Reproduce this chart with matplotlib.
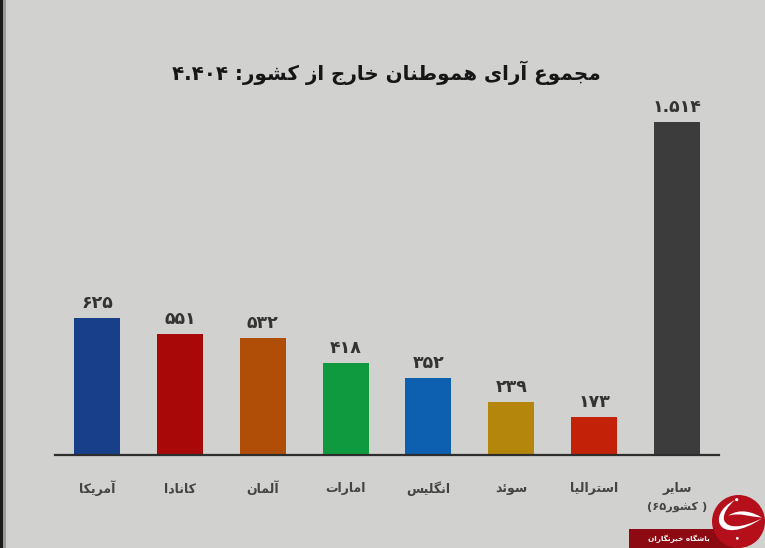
import matplotlib
matplotlib.use("Agg")
import matplotlib.pyplot as plt
from matplotlib.patches import Circle, Rectangle, PathPatch
from matplotlib.path import Path

# ---- data ----
categories = ["آمریکا", "کانادا", "آلمان", "امارات", "انگلیس", "سوئد", "استرالیا", "سایر"]
values = [625, 551, 532, 418, 352, 239, 173, 1514]
value_labels = ["۶۲۵", "۵۵۱", "۵۳۲", "۴۱۸", "۳۵۲", "۲۳۹", "۱۷۳", "۱.۵۱۴"]
colors = ["#173f8a", "#a80808", "#b04e08", "#0f9a40", "#0d5fb0", "#b5860c", "#c42208", "#3c3c3c"]
title = "مجموع آرای هموطنان خارج از کشور: ۴.۴۰۴"
extra_label = "( کشور۶۵)"
banner = "باشگاه خبرنگاران"

# ---- simple Persian shaping into presentation forms (visual order) ----
FORMS = {  # isolated, final, initial, medial
    "ا": "\uFE8D\uFE8E", "آ": "\uFE81\uFE82", "د": "\uFEA9\uFEAA", "ذ": "\uFEAB\uFEAC",
    "ر": "\uFEAD\uFEAE", "ز": "\uFEAF\uFEB0", "و": "\uFEED\uFEEE", "ژ": "\uFB8A\uFB8B",
    "ؤ": "\uFE85\uFE86",
    "ب": "\uFE8F\uFE90\uFE91\uFE92", "پ": "\uFB56\uFB57\uFB58\uFB59", "ت": "\uFE95\uFE96\uFE97\uFE98",
    "ج": "\uFE9D\uFE9E\uFE9F\uFEA0", "چ": "\uFB7A\uFB7B\uFB7C\uFB7D", "ح": "\uFEA1\uFEA2\uFEA3\uFEA4",
    "خ": "\uFEA5\uFEA6\uFEA7\uFEA8", "س": "\uFEB1\uFEB2\uFEB3\uFEB4", "ش": "\uFEB5\uFEB6\uFEB7\uFEB8",
    "ط": "\uFEC1\uFEC2\uFEC3\uFEC4", "ع": "\uFEC9\uFECA\uFECB\uFECC", "ف": "\uFED1\uFED2\uFED3\uFED4",
    "ک": "\uFB8E\uFB8F\uFB90\uFB91", "گ": "\uFB92\uFB93\uFB94\uFB95", "ل": "\uFEDD\uFEDE\uFEDF\uFEE0",
    "م": "\uFEE1\uFEE2\uFEE3\uFEE4", "ن": "\uFEE5\uFEE6\uFEE7\uFEE8", "ه": "\uFEE9\uFEEA\uFEEB\uFEEC",
    "ی": "\uFBFC\uFBFD\uFBFE\uFBFF", "ئ": "\uFE89\uFE8A\uFE8B\uFE8C",
}
MIRROR = {"(": ")", ")": "("}


def shape(text):
    out = []
    n = len(text)
    for i, ch in enumerate(text):
        if ch not in FORMS:
            out.append(ch)
            continue
        prev_joins = i > 0 and text[i - 1] in FORMS and len(FORMS[text[i - 1]]) == 4
        next_joins = i < n - 1 and text[i + 1] in FORMS
        f = FORMS[ch]
        if len(f) == 2:
            out.append(f[1] if prev_joins else f[0])
        elif prev_joins and next_joins:
            out.append(f[3])
        elif prev_joins:
            out.append(f[1])
        elif next_joins:
            out.append(f[2])
        else:
            out.append(f[0])
    s = "".join(out)
    runs, cur = [], ""
    for ch in s:
        if ch in "۰۱۲۳۴۵۶۷۸۹.":
            cur += ch
        else:
            if cur:
                runs.append(cur)
                cur = ""
            runs.append(MIRROR.get(ch, ch))
    if cur:
        runs.append(cur)
    return "".join(reversed(runs))


W, H = 765, 548
BG = "#d1d1cf"
fig = plt.figure(figsize=(W / 100, H / 100), dpi=100, facecolor=BG)
plt.rcParams["font.family"] = ["DejaVu Sans"]

ov = fig.add_axes([0, 0, 1, 1], zorder=3)
ov.set_xlim(0, W)
ov.set_ylim(H, 0)
ov.axis("off")
ov.patch.set_alpha(0)

left, right, base, top = 55, 719, 455, 122
ax = fig.add_axes([left / W, 1 - base / H, (right - left) / W, (base - top) / H], zorder=2)
ax.patch.set_alpha(0)
x = list(range(len(categories)))
ax.bar(x, values, width=0.555, color=colors, linewidth=0)
ax.set_xlim(-0.507, 7.507)
ax.set_ylim(0, 1514)
for s in ["top", "left", "right"]:
    ax.spines[s].set_visible(False)
ax.spines["bottom"].set_linewidth(1.6)
ax.spines["bottom"].set_color("#2e2e2e")
ax.set_yticks([])
ax.set_xticks(x)
ax.set_xticklabels([shape(c) for c in categories], fontsize=9, fontweight="bold", color="#444444", va="center")
ax.tick_params(axis="x", length=0, pad=24)
for xi, v, lab in zip(x, values, value_labels):
    ax.annotate(lab, (xi, v), xytext=(0, 4.3), textcoords="offset points", ha="center", va="bottom",
                fontsize=12.5, color="#333333", fontweight="bold", annotation_clip=False)
ax.annotate(shape(extra_label), (7, 0), xytext=(0, -52), textcoords="offset pixels", ha="center", va="center",
            fontsize=8.2, fontweight="bold", color="#444444", annotation_clip=False)

ov.text(386, 73, shape(title), ha="center", va="center", fontsize=14.3, fontweight="bold", color="#161616")

# dark scan edge on the left of the screenshot
ov.add_patch(Rectangle((0, 0), 3, H, color="#1c1c1c", lw=0))
ov.add_patch(Rectangle((3, 0), 3, H, color="#9a9a9a", lw=0))

# watermark
ov.add_patch(Rectangle((629, 529), 112, 20, color="#8e0a12", lw=0))
ov.add_patch(Circle((738.5, 521.5), 26.5, color="#b50f1c", lw=0))
ov.text(679, 539, shape(banner), ha="center", va="center", fontsize=5.2, fontweight="bold", color="white")


def mark(pts):
    return [(700 + a / 3, 485 + b / 3) for a, b in pts]


C = Path.CURVE4
swoosh = Path(mark([(105, 45), (55, 70), (52, 105), (60, 118), (72, 145), (125, 142), (186, 100),
                    (125, 130), (82, 132), (72, 105), (68, 85), (85, 62), (105, 45)]),
              [Path.MOVETO, C, C, C, C, C, C, C, C, C, C, C, C])
stroke = Path(mark([(85, 92), (120, 68), (160, 82), (186, 98), (150, 95), (120, 82), (85, 92)]),
              [Path.MOVETO, C, C, C, C, C, C])
ov.add_patch(PathPatch(swoosh, facecolor="white", lw=0))
ov.add_patch(PathPatch(stroke, facecolor="white", lw=0))
ov.add_patch(Circle((700 + 110 / 3, 485 + 44 / 3), 1.6, color="white", lw=0))
ov.add_patch(Circle((700 + 112 / 3, 485 + 160 / 3), 1.4, color="white", lw=0))

fig.savefig("out.png", dpi=100, facecolor=BG)
